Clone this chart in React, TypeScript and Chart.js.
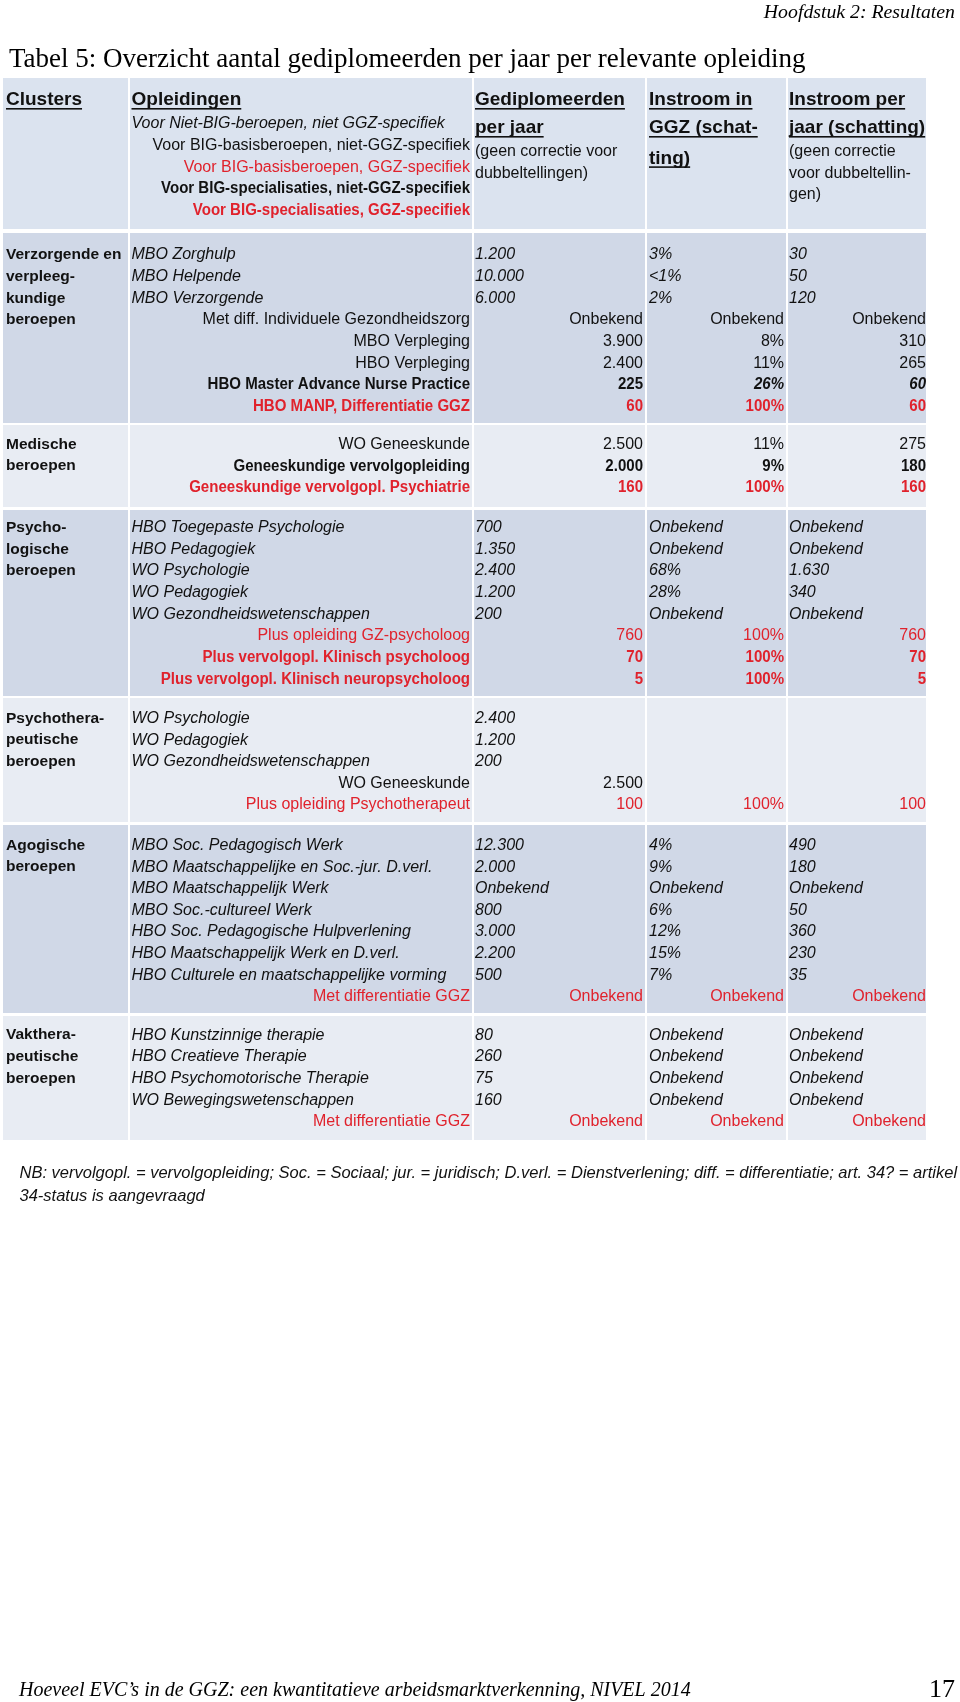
import React, { useEffect, useRef } from "react";
import { Chart, registerables } from "chart.js";

Chart.register(...registerables);

// ---------- DATA ----------
const pageHeader = "Hoofdstuk 2: Resultaten";
const tableTitle = "Tabel 5: Overzicht aantal gediplomeerden per jaar per relevante opleiding";
const headerTitles = [
  ["Clusters"],
  ["Opleidingen"],
  ["Gediplomeerden", "per jaar"],
  ["Instroom in", "GGZ (schat-", "ting)"],
  ["Instroom per", "jaar (schatting)"],
];
const headerNotesGedipl = ["(geen correctie voor", "dubbeltellingen)"];
const headerNotesInstroom = ["(geen correctie", "voor dubbeltellin-", "gen)"];
const opleidingKey = [
  "Voor Niet-BIG-beroepen, niet GGZ-specifiek",
  "Voor BIG-basisberoepen, niet-GGZ-specifiek",
  "Voor BIG-basisberoepen, GGZ-specifiek",
  "Voor BIG-specialisaties, niet-GGZ-specifiek",
  "Voor BIG-specialisaties, GGZ-specifiek",
];
const opleidingKeyStyle = ["i", "r", "rr", "b", "rb"];

const clusters = [
  ["Verzorgende en", "verpleeg-", "kundige", "beroepen"],
  ["Medische", "beroepen"],
  ["Psycho-", "logische", "beroepen"],
  ["Psychothera-", "peutische", "beroepen"],
  ["Agogische", "beroepen"],
  ["Vakthera-", "peutische", "beroepen"],
];

const rowGroup = [
  0, 0, 0, 0, 0, 0, 0, 0,
  1, 1, 1,
  2, 2, 2, 2, 2, 2, 2, 2,
  3, 3, 3, 3, 3,
  4, 4, 4, 4, 4, 4, 4, 4,
  5, 5, 5, 5, 5,
];
const opleidingen = [
  "MBO Zorghulp", "MBO Helpende", "MBO Verzorgende", "Met diff. Individuele Gezondheidszorg",
  "MBO Verpleging", "HBO Verpleging", "HBO Master Advance Nurse Practice", "HBO MANP, Differentiatie GGZ",
  "WO Geneeskunde", "Geneeskundige vervolgopleiding", "Geneeskundige vervolgopl. Psychiatrie",
  "HBO Toegepaste Psychologie", "HBO Pedagogiek", "WO Psychologie", "WO Pedagogiek",
  "WO Gezondheidswetenschappen", "Plus opleiding GZ-psycholoog", "Plus vervolgopl. Klinisch psycholoog",
  "Plus vervolgopl. Klinisch neuropsycholoog",
  "WO Psychologie", "WO Pedagogiek", "WO Gezondheidswetenschappen", "WO Geneeskunde",
  "Plus opleiding Psychotherapeut",
  "MBO Soc. Pedagogisch Werk", "MBO Maatschappelijke en Soc.-jur. D.verl.", "MBO Maatschappelijk Werk",
  "MBO Soc.-cultureel Werk", "HBO Soc. Pedagogische Hulpverlening", "HBO Maatschappelijk Werk en D.verl.",
  "HBO Culturele en maatschappelijke vorming", "Met differentiatie GGZ",
  "HBO Kunstzinnige therapie", "HBO Creatieve Therapie", "HBO Psychomotorische Therapie",
  "WO Bewegingswetenschappen", "Met differentiatie GGZ",
];
const gediplomeerden = [
  "1.200", "10.000", "6.000", "Onbekend", "3.900", "2.400", "225", "60",
  "2.500", "2.000", "160",
  "700", "1.350", "2.400", "1.200", "200", "760", "70", "5",
  "2.400", "1.200", "200", "2.500", "100",
  "12.300", "2.000", "Onbekend", "800", "3.000", "2.200", "500", "Onbekend",
  "80", "260", "75", "160", "Onbekend",
];
const instroomGgz = [
  "3%", "<1%", "2%", "Onbekend", "8%", "11%", "26%", "100%",
  "11%", "9%", "100%",
  "Onbekend", "Onbekend", "68%", "28%", "Onbekend", "100%", "100%", "100%",
  "", "", "", "", "100%",
  "4%", "9%", "Onbekend", "6%", "12%", "15%", "7%", "Onbekend",
  "Onbekend", "Onbekend", "Onbekend", "Onbekend", "Onbekend",
];
const instroomPerJaar = [
  "30", "50", "120", "Onbekend", "310", "265", "60", "60",
  "275", "180", "160",
  "Onbekend", "Onbekend", "1.630", "340", "Onbekend", "760", "70", "5",
  "", "", "", "", "100",
  "490", "180", "Onbekend", "50", "360", "230", "35", "Onbekend",
  "Onbekend", "Onbekend", "Onbekend", "Onbekend", "Onbekend",
];
const rowStyle = [
  "i", "i", "i", "r", "r", "r", "bi", "rb",
  "r", "b", "rb",
  "i", "i", "i", "i", "i", "rr", "rb", "rb",
  "i", "i", "i", "r", "rr",
  "i", "i", "i", "i", "i", "i", "i", "rr",
  "i", "i", "i", "i", "rr",
];
const noteLines = [
  "NB: vervolgopl. = vervolgopleiding; Soc. = Sociaal; jur. = juridisch; D.verl. = Dienstverlening; diff. = differentiatie; art. 34? = artikel",
  "34-status is aangevraagd",
];
const footerText = "Hoeveel EVC\u2019s in de GGZ: een kwantitatieve arbeidsmarktverkenning, NIVEL 2014";
const pageNumber = "17";

// ---------- LAYOUT ----------
const W = 960;
const H = 1702;
const SANS = '"Liberation Sans", Arial, sans-serif';
const SERIF = '"Liberation Serif", "Times New Roman", serif';
const RED = "#e0222c";
const INK = "#111111";
const colEdges = [3, 128, 472, 645, 786, 926];
const leftX = [6, 131.5, 475, 649, 789];
const rightX = [0, 470, 643, 784, 926];
const headerBox = [78, 229];
const groupBox = [
  [233, 423],
  [425, 507],
  [510, 696],
  [698, 822],
  [825, 1013],
  [1016, 1140],
];
const groupFirstY = [255, 444.5, 527.8, 718.5, 845.5, 1035.2];
const PITCH = 21.62;
const HEADER_BG = "#dbe3ef";
const DARK_BG = "#d0d8e7";
const LIGHT_BG = "#e8ecf3";
const BOLD_SX = 0.94;

function rowY(i: number) {
  const g = rowGroup[i];
  let k = 0;
  for (let j = 0; j < i; j++) if (rowGroup[j] === g) k++;
  return groupFirstY[g] + k * PITCH;
}

type Cell = {
  x: number;
  y: number;
  text: string;
  font: string;
  color: string;
  align: CanvasTextAlign;
  underline?: boolean;
  sx?: number;
};

function buildCells(): Cell[] {
  const cells: Cell[] = [];
  const reg = `16px ${SANS}`;
  const ita = `italic 16px ${SANS}`;
  const bold = `bold 16px ${SANS}`;
  const boldIta = `italic bold 16px ${SANS}`;
  const hdr = `bold 19px ${SANS}`;
  headerTitles.forEach((lines, c) => {
    lines.forEach((t, k) => {
      const y = k < 2 ? 100 + k * 28 : 158.3;
      cells.push({ x: leftX[c], y, text: t, font: hdr, color: INK, align: "left", underline: true });
    });
  });
  headerNotesGedipl.forEach((t, k) =>
    cells.push({ x: leftX[2], y: 151.7 + k * 21.6, text: t, font: reg, color: INK, align: "left" })
  );
  headerNotesInstroom.forEach((t, k) =>
    cells.push({ x: leftX[4], y: 151.7 + k * 21.6, text: t, font: reg, color: INK, align: "left" })
  );
  opleidingKey.forEach((t, k) => {
    const s = opleidingKeyStyle[k];
    const y = 124 + k * 21.6;
    if (s === "i") cells.push({ x: leftX[1], y, text: t, font: ita, color: INK, align: "left" });
    else {
      const isBold = s === "b" || s === "rb";
      cells.push({
        x: rightX[1],
        y,
        text: t,
        font: isBold ? bold : reg,
        color: s === "rr" || s === "rb" ? RED : INK,
        align: "right",
        sx: isBold ? BOLD_SX : 1,
      });
    }
  });
  clusters.forEach((lines, g) => {
    lines.forEach((t, k) => {
      cells.push({ x: leftX[0], y: groupFirstY[g] + k * PITCH, text: t, font: `bold 15.5px ${SANS}`, color: INK, align: "left" });
    });
  });
  opleidingen.forEach((name, i) => {
    const y = rowY(i);
    const s = rowStyle[i];
    const vals = [name, gediplomeerden[i], instroomGgz[i], instroomPerJaar[i]];
    vals.forEach((t, j) => {
      if (!t) return;
      const c = j + 1;
      if (s === "i") {
        cells.push({ x: leftX[c], y, text: t, font: ita, color: INK, align: "left" });
      } else {
        let font = reg;
        let sx = 1;
        if (s === "b" || s === "rb") {
          font = bold;
          sx = BOLD_SX;
        }
        if (s === "bi") {
          font = c >= 3 ? boldIta : bold;
          sx = BOLD_SX;
        }
        cells.push({ x: rightX[c], y, text: t, font, color: s === "rr" || s === "rb" ? RED : INK, align: "right", sx });
      }
    });
  });
  cells.push({ x: 955, y: 12.5, text: pageHeader, font: `italic 19.8px ${SERIF}`, color: "#000", align: "right" });
  cells.push({ x: 9, y: 60, text: tableTitle, font: `27px ${SERIF}`, color: "#000", align: "left" });
  noteLines.forEach((t, k) =>
    cells.push({ x: 19.5, y: 1173 + k * 23.5, text: t, font: `italic 16.5px ${SANS}`, color: INK, align: "left" })
  );
  cells.push({ x: 19, y: 1691, text: footerText, font: `italic 20px ${SERIF}`, color: "#000", align: "left" });
  cells.push({ x: 955, y: 1690, text: pageNumber, font: `26px ${SERIF}`, color: "#000", align: "right" });
  return cells;
}

const tablePlugin = {
  id: "tablePlugin",
  beforeDatasetsDraw(chart: any) {
    const { ctx, scales } = chart;
    const xs = scales.x;
    const ys = scales.y;
    const rect = (x0: number, x1: number, y0: number, y1: number, color: string) => {
      const px0 = xs.getPixelForValue(x0);
      const px1 = xs.getPixelForValue(x1);
      const py0 = ys.getPixelForValue(y0);
      const py1 = ys.getPixelForValue(y1);
      ctx.fillStyle = color;
      ctx.fillRect(Math.min(px0, px1), Math.min(py0, py1), Math.abs(px1 - px0), Math.abs(py1 - py0));
    };
    ctx.save();
    ctx.fillStyle = "#ffffff";
    ctx.fillRect(0, 0, chart.width, chart.height);
    const boxes: [number, number, string][] = [[headerBox[0], headerBox[1], HEADER_BG]];
    groupBox.forEach((b, g) => boxes.push([b[0], b[1], g % 2 === 0 ? DARK_BG : LIGHT_BG]));
    boxes.forEach(([y0, y1, color]) => {
      for (let c = 0; c < 5; c++) {
        const x0 = c === 0 ? colEdges[0] : colEdges[c] + 2;
        rect(x0, colEdges[c + 1], y0, y1, color);
      }
    });
    ctx.restore();
  },
  afterDatasetsDraw(chart: any) {
    const { ctx } = chart;
    const meta = chart.getDatasetMeta(0);
    const cells: Cell[] = chart.options.plugins.tablePlugin.cells;
    cells.forEach((cell, i) => {
      const el = meta.data[i];
      const sx = cell.sx || 1;
      ctx.save();
      ctx.textBaseline = "middle";
      ctx.font = cell.font;
      ctx.fillStyle = cell.color;
      ctx.textAlign = cell.align;
      ctx.translate(el.x, el.y);
      ctx.scale(sx, 1);
      ctx.fillText(cell.text, 0, 0);
      if (cell.underline) {
        const w = ctx.measureText(cell.text).width;
        const x0 = cell.align === "left" ? 0 : -w;
        ctx.fillRect(x0, 8, w, 1.6);
      }
      ctx.restore();
    });
  },
};

export default function App() {
  const ref = useRef<HTMLCanvasElement | null>(null);
  useEffect(() => {
    document.body.style.margin = "0";
    const cells = buildCells();
    const chart = new Chart(ref.current as HTMLCanvasElement, {
      type: "scatter",
      data: {
        datasets: [
          {
            data: cells.map((c) => ({ x: c.x, y: c.y })),
            pointRadius: 0,
            pointHoverRadius: 0,
            showLine: false,
          },
        ],
      },
      options: {
        animation: false,
        responsive: false,
        maintainAspectRatio: false,
        layout: { padding: 0 },
        events: [],
        scales: {
          x: { type: "linear", min: 0, max: W, display: false },
          y: { type: "linear", min: 0, max: H, reverse: true, display: false },
        },
        plugins: {
          legend: { display: false },
          tooltip: { enabled: false },
          tablePlugin: { cells },
        } as any,
      },
      plugins: [tablePlugin],
    });
    return () => chart.destroy();
  }, []);
  return <canvas ref={ref} width={W} height={H} style={{ display: "block" }} />;
}
